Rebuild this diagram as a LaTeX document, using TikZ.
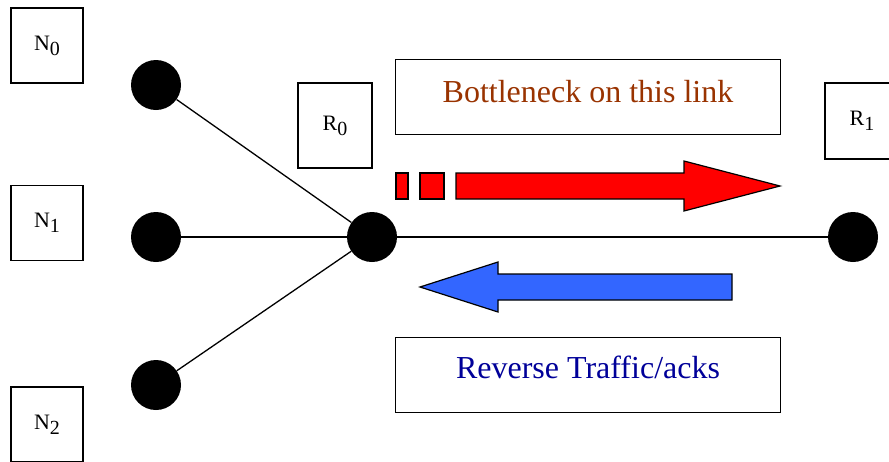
\documentclass[tikz,border=0pt]{standalone}
\usepackage{fontspec}
\setmainfont{Liberation Serif}
\definecolor{neckbrown}{HTML}{993300}
\definecolor{ackblue}{HTML}{000099}
\definecolor{fwdred}{HTML}{FF0000}
\definecolor{revblue}{HTML}{3366FF}
\newcommand{\hostlabel}[2]{{\fontsize{22}{22}\selectfont #1\raisebox{-5pt}{\fontsize{20}{20}\selectfont #2}}}
\tikzset{
  hostbox/.style={draw, line width=1.4pt, minimum width=72pt, minimum height=75pt, inner sep=0pt},
  hub/.style={circle, fill=black, minimum size=50pt, inner sep=0pt},
  link/.style={line width=1.3pt},
  notebox/.style={draw, line width=1.3pt, minimum width=385pt, minimum height=75pt, inner sep=0pt},
  notetext/.style={font=\fontsize{32}{32}\selectfont, inner sep=0pt},
  flow/.style={draw=black, line width=1.2pt, line join=miter}
}
\begin{document}
\begin{tikzpicture}[x=1pt, y=-1pt]
  \useasboundingbox (0,0) rectangle (889,461);
  \fill[white] (0,0) rectangle (889,461);

  % host and router boxes
  \node[hostbox] (n0box) at (47,45.5) {\hostlabel{N}{0}};
  \node[hostbox] (n1box) at (47,223) {\hostlabel{N}{1}};
  \node[hostbox] (n2box) at (47,424.5) {\hostlabel{N}{2}};
  \node[hostbox, minimum width=74pt, minimum height=85pt] (r0box) at (335,125.5) {\hostlabel{R}{0}};
  \node[hostbox, minimum width=74pt, minimum height=76pt] (r1box) at (862,121) {\hostlabel{R}{1}};

  % network nodes
  \node[hub] (n0) at (156,85) {};
  \node[hub] (n1) at (156,237) {};
  \node[hub] (n2) at (156,385) {};
  \node[hub] (r0) at (372,237) {};
  \node[hub] (r1) at (853,237) {};

  % links
  \draw[link] (n0) -- (r0);
  \draw[link] (n1) -- (r0);
  \draw[link] (n2) -- (r0);
  \draw[link] (r0) -- (r1);

  % annotation boxes, text set a little above their centres
  \node[notebox] (neck) at (588,97) {};
  \node[notetext, text=neckbrown, anchor=base] (necktext) at (588,102) {Bottleneck on this link};
  \node[notebox] (acks) at (588,375) {};
  \node[notetext, text=ackblue, anchor=base] (ackstext) at (588,378) {Reverse Traffic/acks};

  % forward data flow
  \fill[fwdred, flow] (396,173) rectangle (408,199);
  \fill[fwdred, flow] (420,173) rectangle (444,199);
  \fill[fwdred, flow] (456,173) -- (684,173) -- (684,161) -- (780,186)
    -- (684,211) -- (684,199) -- (456,199) -- cycle;

  % reverse flow
  \fill[revblue, flow] (732,274) -- (498,274) -- (498,262) -- (420,287)
    -- (498,312) -- (498,300) -- (732,300) -- cycle;
\end{tikzpicture}
\end{document}
